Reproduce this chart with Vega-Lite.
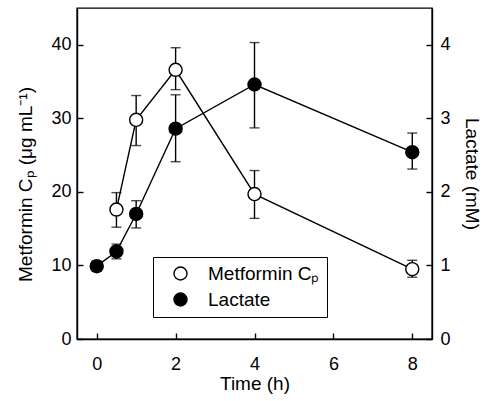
{
  "$schema": "https://vega.github.io/schema/vega-lite/v6.json",
  "width": 355,
  "height": 331,
  "autosize": {"type": "none"},
  "padding": {"left": 77, "top": 8, "right": 59, "bottom": 62},
  "background": "white",
  "config": {
    "font": "Liberation Sans",
    "view": {"stroke": "black", "strokeWidth": 1.4},
    "axis": {
      "domainColor": "black", "domainWidth": 1.4,
      "tickColor": "black", "tickWidth": 1.4, "tickSize": -6,
      "labelColor": "black", "labelFontSize": 18, "labelFont": "Liberation Sans",
      "titleColor": "black", "titleFontSize": 19, "titleFont": "Liberation Sans", "titleFontWeight": "normal",
      "grid": false
    }
  },
  "datasets": {
    "metformin": [
      {"series": "Metformin Cₚ", "time": 0.5, "value": 17.6, "lo": 15.2, "hi": 19.9},
      {"series": "Metformin Cₚ", "time": 1, "value": 29.8, "lo": 26.3, "hi": 33.1},
      {"series": "Metformin Cₚ", "time": 2, "value": 36.6, "lo": 33.9, "hi": 39.6},
      {"series": "Metformin Cₚ", "time": 4, "value": 19.7, "lo": 16.4, "hi": 22.9},
      {"series": "Metformin Cₚ", "time": 8, "value": 9.5, "lo": 8.4, "hi": 10.7}
    ],
    "lactate": [
      {"series": "Lactate", "time": 0, "value": 0.99, "lo": 0.92, "hi": 1.06},
      {"series": "Lactate", "time": 0.5, "value": 1.19, "lo": 1.09, "hi": 1.29},
      {"series": "Lactate", "time": 1, "value": 1.70, "lo": 1.51, "hi": 1.88},
      {"series": "Lactate", "time": 2, "value": 2.86, "lo": 2.41, "hi": 3.32},
      {"series": "Lactate", "time": 4, "value": 3.46, "lo": 2.87, "hi": 4.03},
      {"series": "Lactate", "time": 8, "value": 2.54, "lo": 2.31, "hi": 2.80}
    ]
  },
  "encoding": {
    "x": {
      "field": "time", "type": "quantitative",
      "scale": {"domain": [-0.5, 8.5], "nice": false, "zero": false},
      "axis": {"values": [0, 2, 4, 6, 8], "title": "Time (h)", "labelPadding": 22, "titlePadding": 1}
    }
  },
  "layer": [
    {
      "data": {"name": "lactate"},
      "encoding": {
        "y": {
          "field": "value", "type": "quantitative",
          "scale": {"domain": [0, 4.5], "nice": false},
          "axis": {"orient": "right", "values": [0, 1, 2, 3, 4], "title": "Lactate (mM)", "labelPadding": 14, "titlePadding": 11}
        }
      },
      "layer": [
        {"mark": {"type": "line", "color": "black", "strokeWidth": 1.4}},
        {"mark": {"type": "rule", "color": "black", "strokeWidth": 1.4}, "encoding": {"y": {"field": "lo", "type": "quantitative"}, "y2": {"field": "hi"}}},
        {"mark": {"type": "tick", "color": "black", "thickness": 1.4, "size": 10, "orient": "horizontal"}, "encoding": {"y": {"field": "lo", "type": "quantitative"}}},
        {"mark": {"type": "tick", "color": "black", "thickness": 1.4, "size": 10, "orient": "horizontal"}, "encoding": {"y": {"field": "hi", "type": "quantitative"}}},
        {
          "mark": {"type": "point", "size": 170, "stroke": "black", "strokeWidth": 1.4, "opacity": 1, "filled": false},
          "encoding": {
            "fill": {
              "field": "series", "type": "nominal",
              "scale": {"domain": ["Metformin Cₚ", "Lactate"], "range": ["white", "black"]},
              "legend": {
                "orient": "none", "legendX": 76, "legendY": 249,
                "title": null,
                "symbolSize": 170, "symbolStrokeColor": "black", "symbolStrokeWidth": 1.4,
                "symbolOffset": 11, "labelOffset": 18,
                "labelFontSize": 19, "labelColor": "black", "labelFont": "Liberation Sans",
                "strokeColor": "black", "padding": 7, "rowPadding": 6,
                "encode": {"symbols": {"shape": {"value": "M -2.1 0 L -1 0 M 1 0 L 2.1 0 M -1 0 A 1 1 0 1 0 1 0 A 1 1 0 1 0 -1 0"}}}
              }
            }
          }
        }
      ]
    },
    {
      "data": {"name": "metformin"},
      "encoding": {
        "y": {
          "field": "value", "type": "quantitative",
          "scale": {"domain": [0, 45], "nice": false},
          "axis": {"orient": "left", "values": [0, 10, 20, 30, 40], "title": "Metformin Cₚ (μg mL⁻¹)", "labelPadding": 12, "titlePadding": 15, "titleY": 176}
        }
      },
      "layer": [
        {"mark": {"type": "line", "color": "black", "strokeWidth": 1.4}},
        {"mark": {"type": "rule", "color": "black", "strokeWidth": 1.4}, "encoding": {"y": {"field": "lo", "type": "quantitative"}, "y2": {"field": "hi"}}},
        {"mark": {"type": "tick", "color": "black", "thickness": 1.4, "size": 10, "orient": "horizontal"}, "encoding": {"y": {"field": "lo", "type": "quantitative"}}},
        {"mark": {"type": "tick", "color": "black", "thickness": 1.4, "size": 10, "orient": "horizontal"}, "encoding": {"y": {"field": "hi", "type": "quantitative"}}},
        {
          "mark": {"type": "point", "size": 170, "stroke": "black", "strokeWidth": 1.4, "opacity": 1, "filled": false},
          "encoding": {
            "fill": {
              "field": "series", "type": "nominal",
              "legend": {
                "orient": "none", "legendX": 76, "legendY": 249,
                "title": null,
                "symbolSize": 170, "symbolStrokeColor": "black", "symbolStrokeWidth": 1.4,
                "symbolOffset": 11, "labelOffset": 18,
                "labelFontSize": 19, "labelColor": "black", "labelFont": "Liberation Sans",
                "strokeColor": "black", "padding": 7, "rowPadding": 6,
                "encode": {"symbols": {"shape": {"value": "M -2.1 0 L -1 0 M 1 0 L 2.1 0 M -1 0 A 1 1 0 1 0 1 0 A 1 1 0 1 0 -1 0"}}}
              }
            }
          }
        }
      ]
    }
  ],
  "resolve": {"scale": {"y": "independent"}}
}
